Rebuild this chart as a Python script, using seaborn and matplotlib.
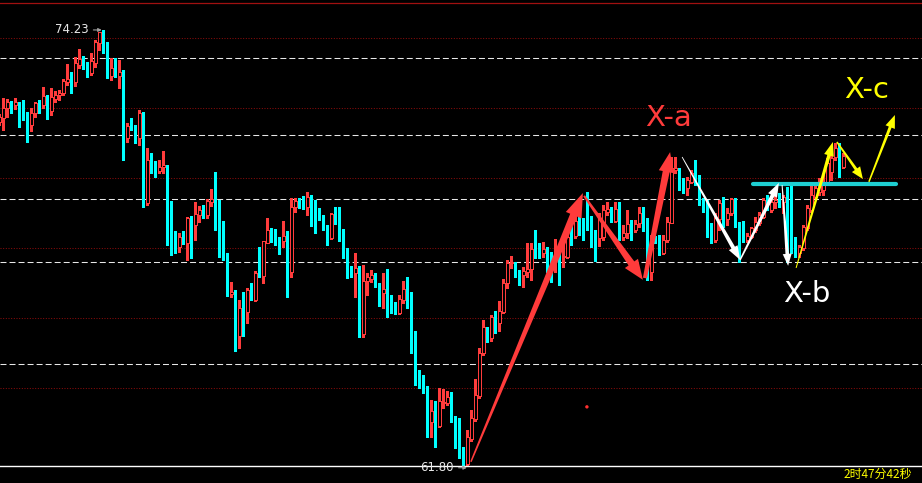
import numpy as np
import pandas as pd
import matplotlib
matplotlib.use("Agg")
import matplotlib.pyplot as plt
import seaborn as sns
from matplotlib.patches import Polygon
from matplotlib.transforms import IdentityTransform

# ---------------- data (prices) ----------------
opens = [
    71.60, 71.71, 72.00, 72.20, 72.09, 72.17, 72.09, 71.83, 71.52, 71.86, 72.14,
    72.09, 72.34, 71.92, 72.26, 72.37, 72.43, 72.74, 72.83, 72.74, 73.23,
    73.43, 73.23, 73.00, 73.29, 73.86, 74.17, 73.77, 72.91, 73.14, 72.91,
    73.03, 71.14, 71.52, 71.43, 71.14, 71.83, 69.29, 70.52, 70.32, 70.20,
    70.32, 70.37, 68.74, 68.43, 68.03, 68.32, 68.14, 68.86, 68.66, 68.94,
    69.14, 68.94, 69.32, 69.40, 68.77, 68.57, 67.80, 66.69, 66.74, 65.49,
    66.29, 66.17, 66.80, 66.52, 67.32, 67.20, 68.14, 68.49, 68.49, 68.26,
    68.20, 68.34, 67.32, 69.17, 69.34, 69.26, 69.17, 69.46, 69.09, 69.03,
    68.86, 68.60, 68.29, 68.94, 68.89, 68.37, 67.57, 67.40, 67.29, 67.43,
    65.54, 67.06, 67.12, 67.23, 66.94, 66.72, 66.83, 66.34, 66.29, 66.14,
    66.52, 66.83, 66.74, 65.32, 64.40, 64.14, 63.97, 63.03, 63.37, 62.92,
    63.57, 63.57, 63.74, 63.12, 63.12, 62.03, 61.83, 62.54, 63.12, 63.77,
    65.00, 65.74, 65.43, 66.00, 65.86, 66.17, 67.00, 67.57, 67.60, 67.26,
    67.23, 67.32, 67.40, 67.97, 67.97, 67.86, 68.00, 67.80, 67.72, 67.94,
    67.74, 67.74, 68.43, 68.34, 68.77, 68.69, 69.29, 68.57, 68.40, 68.29,
    68.32, 69.03, 69.14, 68.77, 69.17, 68.32, 68.43, 68.72, 68.52, 68.72,
    69.03, 68.80, 67.32, 68.29, 68.29, 67.86, 68.23, 68.72, 70.23, 70.23,
    69.74, 69.72, 69.89, 70.09, 70.03, 69.34, 69.09, 68.54, 68.23, 68.83,
    69.29, 68.83, 69.00, 69.40, 68.69, 68.63, 68.23, 68.32, 68.52, 68.72,
    68.89, 69.40, 69.09, 69.32, 69.40, 69.32, 69.46, 68.94, 67.97, 67.86,
    68.00, 68.57, 69.09, 69.46, 69.60, 69.66, 69.89, 70.17, 70.60, 70.89,
    70.32,
]
highs = [
    71.83, 72.29, 72.26, 72.20, 72.29, 72.17, 72.23, 71.89, 72.00, 72.17, 72.23,
    72.60, 72.37, 72.57, 72.49, 72.51, 72.83, 73.26, 73.03, 73.46, 73.69,
    73.49, 73.32, 73.57, 73.94, 74.17, 74.23, 73.89, 73.43, 73.43, 73.37,
    73.09, 71.57, 71.71, 71.52, 71.94, 71.89, 70.86, 70.72, 70.49, 70.52,
    70.77, 70.37, 69.34, 68.49, 68.43, 68.49, 68.89, 68.92, 69.32, 69.20,
    69.23, 69.40, 69.69, 70.17, 69.37, 68.77, 67.86, 67.03, 66.80, 66.52,
    66.74, 66.86, 67.00, 67.34, 68.03, 68.20, 68.86, 68.57, 68.54, 68.32,
    68.77, 68.49, 69.43, 69.43, 69.43, 69.49, 69.60, 69.52, 69.37, 69.14,
    68.94, 68.66, 69.00, 69.17, 69.17, 68.54, 68.00, 67.49, 67.86, 67.49,
    67.52, 67.29, 67.37, 67.29, 67.00, 67.29, 67.40, 66.66, 66.46, 66.66,
    67.06, 67.17, 66.74, 65.63, 64.52, 64.37, 64.06, 63.66, 63.63, 64.00,
    63.97, 63.92, 63.89, 63.20, 63.14, 62.32, 62.80, 63.37, 64.26, 65.14,
    65.94, 65.74, 66.09, 66.20, 66.49, 67.12, 67.66, 67.77, 67.60, 67.37,
    67.46, 68.14, 68.14, 68.52, 68.14, 68.17, 68.03, 67.89, 68.26, 68.09,
    68.26, 68.52, 68.66, 68.94, 68.94, 68.86, 69.60, 68.92, 68.52, 69.00,
    69.23, 69.32, 69.17, 69.32, 69.32, 68.66, 69.09, 68.80, 68.80, 69.17,
    69.17, 68.86, 68.37, 68.34, 68.37, 68.37, 68.89, 70.60, 70.60, 70.29,
    70.00, 70.03, 70.23, 70.52, 70.09, 69.43, 69.37, 68.72, 69.00, 69.37,
    69.46, 69.14, 69.43, 69.43, 68.74, 68.77, 68.43, 68.60, 68.89, 69.03,
    69.43, 69.52, 69.43, 69.52, 69.57, 69.52, 69.74, 69.80, 68.32, 68.09,
    68.66, 69.23, 69.89, 69.89, 70.00, 70.09, 70.57, 70.72, 71.00, 71.00,
    70.72,
]
lows = [
    71.52, 71.37, 71.74, 71.86, 71.97, 71.46, 71.66, 71.03, 71.34, 71.74, 71.86,
    72.00, 71.69, 71.80, 72.17, 72.23, 72.37, 72.66, 72.43, 72.63, 73.14,
    73.12, 72.89, 72.94, 73.17, 73.66, 73.57, 72.86, 72.80, 72.89, 72.57,
    70.52, 71.03, 71.37, 71.00, 70.94, 69.17, 69.23, 70.14, 70.03, 70.14,
    70.14, 68.09, 67.80, 67.86, 67.89, 68.12, 67.66, 67.72, 68.23, 68.74,
    68.86, 68.86, 69.20, 68.52, 67.74, 67.66, 66.63, 66.60, 65.06, 65.14,
    65.49, 65.86, 66.52, 66.49, 67.17, 67.00, 68.14, 68.17, 68.09, 67.83,
    68.03, 66.60, 67.17, 69.03, 69.14, 69.12, 68.94, 68.63, 68.43, 68.80,
    68.52, 68.09, 68.26, 68.69, 68.20, 67.72, 67.14, 67.17, 66.60, 65.46,
    65.46, 66.66, 67.03, 66.89, 66.34, 66.29, 66.03, 66.14, 66.12, 66.12,
    66.43, 66.29, 65.00, 64.09, 64.00, 63.86, 62.60, 62.60, 62.32, 62.89,
    63.43, 63.52, 63.03, 62.29, 62.00, 61.80, 61.81, 62.49, 63.06, 63.72,
    64.94, 65.32, 65.34, 65.57, 65.63, 66.14, 66.86, 67.43, 67.17, 66.94,
    66.89, 67.17, 67.09, 67.72, 67.72, 67.74, 67.32, 67.03, 67.32, 66.94,
    67.46, 67.72, 68.09, 68.29, 68.37, 68.23, 68.52, 68.03, 67.63, 68.06,
    68.23, 68.94, 68.74, 68.74, 68.23, 68.23, 68.29, 68.23, 68.46, 68.60,
    68.49, 67.09, 67.09, 68.14, 67.80, 67.83, 68.17, 68.72, 70.14, 69.66,
    69.57, 69.52, 69.86, 69.80, 69.23, 69.03, 68.32, 68.14, 68.17, 68.52,
    68.60, 68.66, 68.94, 68.60, 67.60, 68.17, 68.17, 68.29, 68.46, 68.66,
    68.86, 69.09, 69.03, 69.14, 69.17, 69.00, 67.60, 67.86, 67.74, 67.74,
    67.94, 68.52, 69.03, 69.43, 69.52, 69.52, 69.80, 69.94, 70.52, 70.03,
    70.29,
]
closes = [
    71.74, 72.00, 72.17, 72.09, 72.17, 72.06, 71.77, 71.49, 71.86, 72.14, 72.09,
    72.34, 71.89, 72.31, 72.37, 72.43, 72.77, 72.83, 72.74, 73.29, 73.40,
    73.23, 73.00, 73.34, 73.89, 74.17, 73.77, 72.89, 73.14, 72.91, 73.03,
    71.09, 71.49, 71.46, 71.09, 71.86, 69.32, 70.52, 70.17, 70.20, 70.32,
    70.37, 68.74, 68.37, 67.97, 68.32, 68.17, 68.86, 68.63, 68.97, 69.09,
    68.94, 69.34, 69.40, 68.74, 68.57, 67.80, 66.69, 66.74, 65.52, 66.29,
    66.17, 66.80, 66.54, 67.29, 67.20, 68.20, 68.52, 68.43, 68.23, 68.23,
    68.34, 67.32, 69.17, 69.34, 69.23, 69.14, 69.46, 69.06, 69.00, 68.86,
    68.57, 68.29, 68.97, 68.83, 68.34, 68.00, 67.40, 67.29, 67.43, 65.57,
    67.06, 67.17, 67.23, 66.94, 66.74, 66.83, 66.32, 66.26, 66.14, 66.54,
    66.83, 66.72, 65.29, 64.17, 64.14, 63.97, 63.06, 63.34, 62.92, 63.63,
    63.60, 63.74, 63.09, 63.09, 62.03, 61.83, 62.60, 63.14, 63.80, 65.00,
    65.74, 65.46, 66.03, 65.86, 66.20, 67.00, 67.57, 67.60, 67.23, 67.23,
    67.34, 67.40, 67.97, 67.89, 67.86, 67.97, 67.80, 67.72, 67.89, 67.80,
    67.77, 68.32, 68.34, 68.77, 68.66, 68.60, 68.54, 68.37, 68.26, 68.86,
    69.09, 69.12, 68.77, 69.12, 68.32, 68.43, 68.69, 68.46, 68.69, 69.00,
    68.74, 67.29, 68.29, 68.17, 67.86, 68.23, 68.74, 70.29, 70.29, 69.74,
    69.69, 69.94, 70.14, 70.03, 69.34, 69.06, 68.52, 68.23, 68.86, 69.29,
    68.69, 69.00, 69.40, 68.69, 68.60, 68.20, 68.34, 68.57, 68.74, 68.94,
    69.37, 69.17, 69.32, 69.37, 69.37, 69.46, 68.03, 67.94, 67.86, 68.03,
    68.60, 69.14, 69.52, 69.72, 69.77, 69.80, 70.43, 70.57, 70.86, 70.29,
    70.63,
]

high_label = "74.23"
low_label = "61.80"
high_value = 74.23
low_value = 61.80
timer_text = "2时47分42秒"

dashed_levels = [73.43, 71.23, 69.40, 67.60, 64.69]
dotted_levels = [64, 66, 68, 70, 72, 74]

# annotation arrows: (start index, start price) -> (tip index, tip price)
red_arrows = [((117.9, 61.89), (145.9, 69.57)),
              ((146.2, 69.49), (160.9, 67.09)),
              ((161.4, 67.14), (167.7, 70.74))]
white_arrows = [((170.7, 70.60), (185.2, 67.66)),
                ((185.2, 67.66), (194.9, 69.86)),
                ((195.7, 69.80), (197.2, 67.49))]
yellow_arrows = [((199.2, 67.43), (208.4, 71.03)),
                 ((209.4, 71.03), (215.9, 69.97)),
                 ((217.4, 69.89), (223.9, 71.80))]
level_x = [188.4, 224.2]
level_y = [69.83, 69.83]
dot_x = [146.9]
dot_y = [63.46]

wave_labels = [("X-a", 167.3, 71.70, "#FF3B3B"),
               ("X-b", 202.0, 66.68, "#FFFFFF"),
               ("X-c", 216.7, 72.52, "#FFFF00")]

# ---------------- style ----------------
sns.set_theme(style="dark", rc={"axes.facecolor": "black", "figure.facecolor": "black",
                                "savefig.facecolor": "black"})
plt.rcParams["font.family"] = ["DejaVu Sans", "Noto Sans CJK SC"]
plt.rcParams["lines.scale_dashes"] = False

RED = "#FF3C3C"
CYAN = "#00FFFF"

W, H = 922, 483
fig = plt.figure(figsize=(W / 100, H / 100), dpi=100)
ax = fig.add_axes([0, (H - 466) / H, 1, 463 / H])
ax.set_facecolor("black")
ax.grid(False)

n = len(opens)
assert n == len(highs) == len(lows) == len(closes)
O = np.array(opens); Hh = np.array(highs); L = np.array(lows); C = np.array(closes)
x = np.arange(n)
up = C >= O

ax.set_xlim(0.175, 230.675)
ax.set_ylim(61.77, 75.0)
ax.autoscale(False)

# level lines
for lv in dotted_levels:
    ax.axhline(lv, color="#8C0C0C", lw=0.75, ls=(0, (0.72, 1.2)), zorder=1)
for lv in dashed_levels:
    ax.axhline(lv, color="#E8E8E8", lw=0.75, ls=(0, (4.3, 2.2)), zorder=1)

# wicks
ax.vlines(x[up], L[up], Hh[up], color=RED, lw=0.75, zorder=2, antialiased=False)
ax.vlines(x[~up], L[~up], Hh[~up], color=CYAN, lw=0.75, zorder=2, antialiased=False)

# bodies
lo = np.minimum(O, C)
hgt = np.maximum(np.abs(C - O), 0.03)
ax.bar(x[up], hgt[up], bottom=lo[up], width=0.72, facecolor="black",
       edgecolor=RED, linewidth=0.72, zorder=3, antialiased=False)
ax.bar(x[~up], hgt[~up], bottom=lo[~up], width=0.78, facecolor=CYAN,
       edgecolor="none", linewidth=0, zorder=3, antialiased=False)

# cyan level line and dot through seaborn
sns.lineplot(x=level_x, y=level_y, ax=ax, color="#1ECFD2", lw=3.0, zorder=5)
sns.scatterplot(x=dot_x, y=dot_y, ax=ax, color="#FF3030", s=6, edgecolor="none", zorder=5)

# spines
for s in ["left", "right"]:
    ax.spines[s].set_visible(False)
ax.spines["top"].set_color("#A01010")
ax.spines["top"].set_linewidth(0.9)
ax.spines["bottom"].set_color("#FFFFFF")
ax.spines["bottom"].set_linewidth(1.0)
ax.set_xticks([]); ax.set_yticks([])
ax.set_xlabel(""); ax.set_ylabel("")
if ax.get_legend():
    ax.get_legend().remove()


def taper_arrow(start, tip, w0, w1, hl, hw, color):
    tr = ax.transData
    s = np.array(tr.transform(start)); t = np.array(tr.transform(tip))
    d = t - s
    u = d / np.hypot(*d)
    nv = np.array([-u[1], u[0]])
    b = t - u * hl
    pts = [s + nv * w0 / 2, b + nv * w1 / 2, b + nv * hw / 2, t,
           b - nv * hw / 2, b - nv * w1 / 2, s - nv * w0 / 2]
    poly = Polygon(pts, closed=True, facecolor=color, edgecolor="none",
                   transform=IdentityTransform(), zorder=6)
    fig.add_artist(poly)


red_params = [(1.5, 7.5, 24, 17), (2.0, 7.0, 20, 16), (4.0, 7.0, 20, 15)]
for (s, t), p in zip(red_arrows, red_params):
    taper_arrow(s, t, *p, color="#FF3B3B")
white_params = [(0.8, 4.0, 14, 10), (1.5, 4.0, 14, 10), (1.0, 3.5, 12, 9)]
for (s, t), p in zip(white_arrows, white_params):
    taper_arrow(s, t, *p, color="#FFFFFF")
yellow_params = [(1.0, 3.5, 14, 10), (1.5, 3.0, 12, 10), (1.5, 3.0, 13, 10)]
for (s, t), p in zip(yellow_arrows, yellow_params):
    taper_arrow(s, t, *p, color="#FFFF00")

for txt, tx, ty, col in wave_labels:
    ax.text(tx, ty, txt, color=col, fontsize=21, ha="center", va="center", zorder=7)

# high / low markers
i_high = int(np.argmax(Hh))
i_low = int(np.argmin(L))
ax.annotate(high_label, xy=(i_high - 0.4, high_value), xytext=(-13, 0),
            textcoords="offset pixels", ha="right", va="center", color="#E8E8E8",
            fontsize=8.5, annotation_clip=False,
            arrowprops=dict(arrowstyle="-|>", color="#A0A0A0", lw=0.8,
                            shrinkA=1, shrinkB=0, mutation_scale=5))
ax.annotate(low_label, xy=(i_low + 0.9, low_value - 0.08), xytext=(-13, 0),
            textcoords="offset pixels", ha="right", va="center", color="#E8E8E8",
            fontsize=8.5, annotation_clip=False, zorder=8,
            arrowprops=dict(arrowstyle="-|>", color="#A0A0A0", lw=0.8,
                            shrinkA=1, shrinkB=0, mutation_scale=5))

fig.text(912 / W, (H - 474.5) / H, timer_text, ha="right", va="center",
         color="#FFFF00", fontsize=8.6, family=["Noto Sans CJK SC", "DejaVu Sans"])

fig.savefig("out.png", dpi=100, facecolor="black")
